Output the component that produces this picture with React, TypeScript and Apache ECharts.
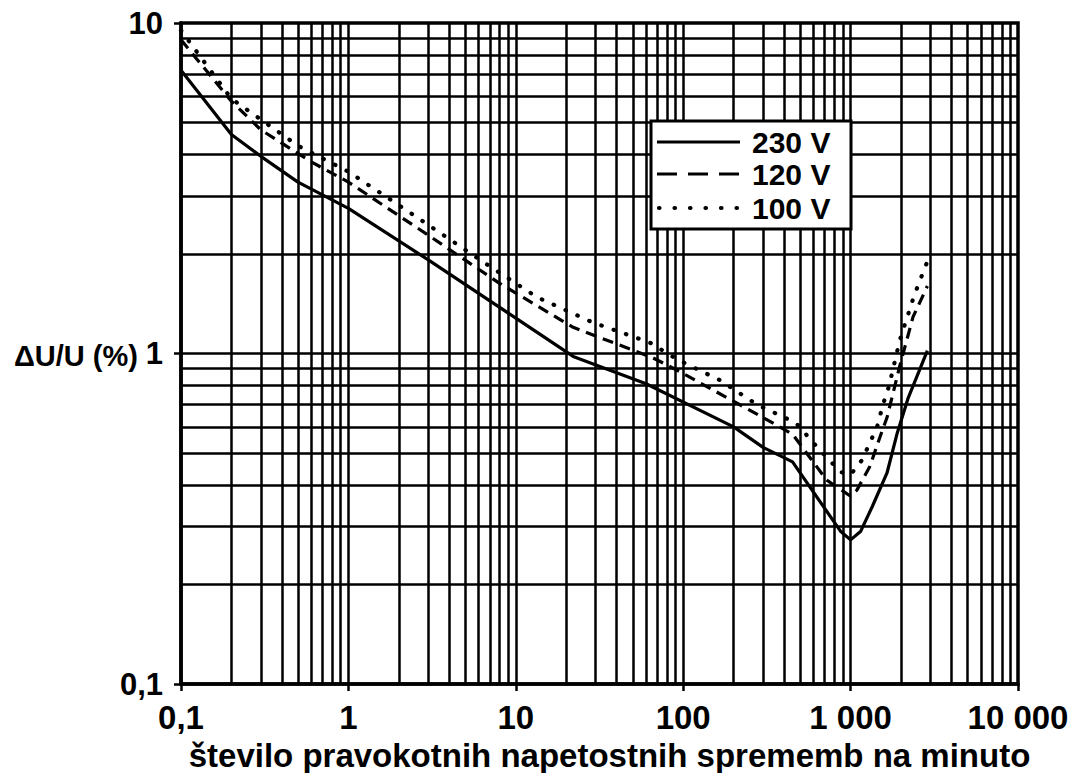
import React, { useEffect, useRef } from "react";
import * as echarts from "echarts";

// ---- data ----
const X_TICK_LABELS = ["0,1", "1", "10", "100", "1 000", "10 000"];
const Y_TICK_LABELS = ["0,1", "1", "10"];

const SERIES_NAMES = ["230 V", "120 V", "100 V"];

const X_230 = [0.1, 0.2, 0.3, 0.5, 1, 3, 10, 22, 60, 200, 300, 450, 870, 1000, 1150, 1350, 1650, 1900, 2200, 2875];
const Y_230 = [7.2, 4.6, 3.95, 3.3, 2.75, 1.92, 1.28, 0.98, 0.81, 0.6, 0.52, 0.47, 0.29, 0.273, 0.29, 0.345, 0.435, 0.575, 0.73, 1.02];

const X_120 = [0.1, 0.2, 0.3, 0.6, 1, 3, 8, 22, 66, 92, 300, 450, 720, 1000, 1090, 1300, 1500, 1650, 1970, 2360, 2875];
const Y_120 = [8.9, 5.8, 4.75, 3.8, 3.3, 2.28, 1.63, 1.2, 0.97, 0.89, 0.64, 0.57, 0.414, 0.37, 0.386, 0.454, 0.56, 0.64, 0.92, 1.29, 1.6];

const X_100 = [0.1, 0.2, 0.5, 1, 3, 6.5, 13.4, 29, 63, 92, 166, 276, 405, 480, 656, 870, 1000, 1170, 1440, 1560, 1700, 1970, 2400, 2875];
const Y_100 = [9.5, 5.9, 4.25, 3.55, 2.45, 1.88, 1.48, 1.24, 1.08, 0.96, 0.83, 0.7, 0.64, 0.61, 0.51, 0.438, 0.43, 0.476, 0.6, 0.7, 0.8, 1.1, 1.5, 1.9];

// grid decades (log paper)
const X_DECADES = [0.1, 1, 10, 100, 1000];
const Y_DECADES = [0.1, 1];
const MULTIPLES = [1, 2, 3, 4, 5, 6, 7, 8, 9];

const FONT = '"Liberation Sans", Arial, Helvetica, sans-serif';

function zip(xs: number[], ys: number[]) {
  return xs.map((x, i) => [x, ys[i]]);
}

export default function App() {
  const ref = useRef<HTMLDivElement>(null);

  useEffect(() => {
    if (!ref.current) return;
    const chart = echarts.init(ref.current, undefined, { renderer: "svg" });

    const vLines: any[] = [];
    X_DECADES.forEach((d) =>
      MULTIPLES.forEach((m) => {
        const v = d * m;
        if (v > 0.1 + 1e-9) vLines.push({ xAxis: v });
      })
    );
    const hLines: any[] = [];
    Y_DECADES.forEach((d) =>
      MULTIPLES.forEach((m) => {
        const v = d * m;
        if (v > 0.1 + 1e-9) hLines.push({ yAxis: v });
      })
    );

    const lineBase = { type: "line", symbol: "none", showSymbol: false, silent: true, z: 5 };

    chart.setOption({
      animation: false,
      backgroundColor: "#ffffff",
      grid: {
        left: 181,
        right: 65,
        top: 23,
        bottom: 89,
        outerBoundsMode: "none",
        containLabel: false,
        show: true,
        borderColor: "#000",
        borderWidth: 3.5,
        backgroundColor: "transparent",
      },
      xAxis: {
        type: "log",
        logBase: 10,
        min: 0.1,
        max: 10000,
        name: "število pravokotnih napetostnih sprememb na minuto",
        nameLocation: "middle",
        nameGap: 49,
        nameTextStyle: {
          fontFamily: FONT,
          fontWeight: "bold",
          fontSize: 33,
          color: "#000",
          verticalAlign: "top",
          padding: [0, 0, 0, 20],
        },
        axisLine: { show: true, lineStyle: { color: "#000", width: 3.5 } },
        axisTick: { show: true, length: 7, lineStyle: { color: "#000", width: 2.5 } },
        splitLine: { show: false },
        axisLabel: {
          margin: 17,
          fontFamily: FONT,
          fontWeight: "bold",
          fontSize: 33,
          color: "#000",
          formatter: (v: number) => X_TICK_LABELS[Math.round(Math.log10(v)) + 1] ?? "",
        },
      },
      yAxis: {
        type: "log",
        logBase: 10,
        min: 0.1,
        max: 10,
        axisLine: { show: true, lineStyle: { color: "#000", width: 3.5 } },
        axisTick: { show: true, length: 7, lineStyle: { color: "#000", width: 2.5 } },
        splitLine: { show: false },
        axisLabel: {
          margin: 18,
          fontFamily: FONT,
          fontWeight: "bold",
          fontSize: 31,
          color: "#000",
          formatter: (v: number) => Y_TICK_LABELS[Math.round(Math.log10(v)) + 1] ?? "",
        },
      },
      series: [
        {
          type: "line",
          name: "grid",
          data: [[0.1, 0.1]],
          symbol: "none",
          silent: true,
          lineStyle: { width: 0, opacity: 0 },
          z: 1,
          markLine: {
            silent: true,
            symbol: ["none", "none"],
            animation: false,
            label: { show: false },
            lineStyle: { color: "#000", width: 2.5, type: "solid" },
            data: [...vLines, ...hLines],
          },
        },
        {
          ...lineBase,
          name: SERIES_NAMES[0],
          data: zip(X_230, Y_230),
          lineStyle: { color: "#000", width: 3.2, type: "solid" },
        },
        {
          ...lineBase,
          name: SERIES_NAMES[1],
          data: zip(X_120, Y_120),
          lineStyle: { color: "#000", width: 3.2, type: [11, 7] },
        },
        {
          ...lineBase,
          name: SERIES_NAMES[2],
          data: zip(X_100, Y_100),
          lineStyle: { color: "#000", width: 4.2, type: [0.5, 12.5], cap: "round" },
        },
      ],
      graphic: [
        {
          type: "text",
          left: 14,
          top: 341,
          z: 100,
          style: { text: "ΔU/U (%)", font: `bold 29px ${FONT}`, fill: "#000" },
        },
        {
          type: "group",
          z: 100,
          children: [
            {
              type: "rect",
              z: 100,
              shape: { x: 651, y: 121, width: 200, height: 108 },
              style: { fill: "#fff", stroke: "#000", lineWidth: 3 },
            },
            {
              type: "line",
              z: 101,
              shape: { x1: 657, y1: 142, x2: 740, y2: 142 },
              style: { stroke: "#000", lineWidth: 3.2 },
            },
            {
              type: "line",
              z: 101,
              shape: { x1: 657, y1: 174, x2: 740, y2: 174 },
              style: { stroke: "#000", lineWidth: 3.2, lineDash: [20, 11] },
            },
            {
              type: "line",
              z: 101,
              shape: { x1: 659, y1: 208, x2: 740, y2: 208 },
              style: { stroke: "#000", lineWidth: 4.2, lineDash: [0.5, 15], lineCap: "round" },
            },
            {
              type: "text",
              z: 101,
              x: 752,
              y: 142,
              style: { text: SERIES_NAMES[0], font: `bold 30px ${FONT}`, fill: "#000", verticalAlign: "middle" },
            },
            {
              type: "text",
              z: 101,
              x: 752,
              y: 174,
              style: { text: SERIES_NAMES[1], font: `bold 30px ${FONT}`, fill: "#000", verticalAlign: "middle" },
            },
            {
              type: "text",
              z: 101,
              x: 752,
              y: 208,
              style: { text: SERIES_NAMES[2], font: `bold 30px ${FONT}`, fill: "#000", verticalAlign: "middle" },
            },
          ],
        },
      ],
    });

    return () => chart.dispose();
  }, []);

  return (
    <div
      ref={ref}
      style={{ position: "fixed", left: 0, top: 0, width: 1083, height: 773, background: "#fff" }}
    />
  );
}
